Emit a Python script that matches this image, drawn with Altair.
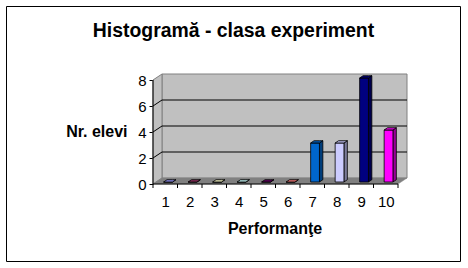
import altair as alt
import pandas as pd

# ---- chart values ----
categories = [1, 2, 3, 4, 5, 6, 7, 8, 9, 10]
counts = [0, 0, 0, 0, 0, 0, 3, 3, 8, 4]
bar_colors = ["#9999FF", "#993366", "#FFFFCC", "#CCFFFF", "#660066",
              "#FF8080", "#0066CC", "#CCCCFF", "#000080", "#FF00FF"]
y_ticks = [0, 2, 4, 6, 8]
title_text = "Histogramă - clasa experiment"
y_title = "Nr. elevi"
x_title = "Performanţe"

# ---- geometry / style ----
FONT = "Liberation Sans"
PX_X = 24.5
PX_Y = 13.0
DEPTH_X, DEPTH_Y = 9.0, 6.0
DX, DY = DEPTH_X / PX_X, DEPTH_Y / PX_Y
XMIN, XMAX = categories[0] - 0.5, categories[-1] + 0.5
YMAX = max(y_ticks)
W = PX_X * len(categories) + DEPTH_X
H = PX_Y * YMAX + DEPTH_Y
LEFT, TOP = 153, 74

BAR_HALF = 4.4 / PX_X
BAR_OX, BAR_OY = 2.8 / PX_X, 2.0 / PX_Y
BAR_DX, BAR_DY = 3.4 / PX_X, 2.3 / PX_Y


def shade(h, f):
    h = h.lstrip("#")
    r, g, b = (int(h[i:i + 2], 16) for i in (0, 2, 4))
    return "#%02X%02X%02X" % (int(r * f), int(g * f), int(b * f))


xs = alt.Scale(domain=[XMIN, XMAX + DX], nice=False, zero=False)
ys = alt.Scale(domain=[0, YMAX + DY], nice=False, zero=False)

xaxis = alt.Axis(values=categories, ticks=False, tickSize=0, domain=False, grid=False,
                 format="d", labelFont=FONT, labelFontSize=15, labelColor="black",
                 labelPadding=10, labelFlush=False, labelOverlap=False,
                 title=x_title, titleFont=FONT, titleFontSize=16, titleFontWeight="bold",
                 titleColor="black", titleAlign="center", titleBaseline="alphabetic",
                 titleX=121.5, titleY=49)
yaxis = alt.Axis(values=y_ticks, tickSize=4, tickColor="black", domain=False, grid=False,
                 format="d", labelFont=FONT, labelFontSize=15, labelColor="black",
                 labelPadding=3, labelFlush=False, labelOverlap=False,
                 title=y_title, titleFont=FONT, titleFontSize=16, titleFontWeight="bold",
                 titleColor="black", titleAngle=0, titleAlign="right",
                 titleBaseline="alphabetic", titleX=-26, titleY=62)


def X(f):
    return alt.X(f, type="quantitative", scale=xs, axis=xaxis)


def Y(f):
    return alt.Y(f, type="quantitative", scale=ys, axis=yaxis, stack=None)


# ---- walls ----
side_wall = pd.DataFrame({"x": [XMIN, XMIN + DX], "y": [0, DY], "y2": [YMAX, YMAX + DY]})
back_wall = pd.DataFrame({"x": [XMIN + DX], "x2": [XMAX + DX], "y": [DY], "y2": [YMAX + DY]})
floor = pd.DataFrame({"x": [XMIN, XMIN + DX, XMAX, XMAX + DX],
                      "y": [0, 0, 0, DY], "y2": [0, DY, DY, DY]})

grid_back = pd.DataFrame({"x": [XMIN + DX] * 3, "x2": [XMAX + DX] * 3,
                          "y": [t + DY for t in y_ticks[1:-1]]})
grid_side = pd.DataFrame({"x": [XMIN] * 3, "x2": [XMIN + DX] * 3,
                          "y": y_ticks[1:-1], "y2": [t + DY for t in y_ticks[1:-1]]})

l_side = alt.Chart(side_wall).mark_area(orient="vertical", fill="#C0C0C0", stroke="#808080",
                                         strokeWidth=1).encode(x=X("x"), y=Y("y"), y2="y2")
l_back = alt.Chart(back_wall).mark_rect(fill="#C0C0C0", stroke="#808080", strokeWidth=1).encode(
    x=X("x"), x2="x2", y=Y("y"), y2="y2")
l_floor = alt.Chart(floor).mark_area(orient="vertical", fill="#808080", stroke="#808080",
                                      strokeWidth=0.5).encode(x=X("x"), y=Y("y"), y2="y2")
l_gb = alt.Chart(grid_back).mark_rule(color="black", strokeWidth=1).encode(x=X("x"), x2="x2", y=Y("y"))
l_gs = alt.Chart(grid_side).mark_rule(color="black", strokeWidth=1).encode(
    x=X("x"), x2="x2", y=Y("y"), y2="y2")

# ---- bars ----
front_rows, side_rows, top_rows = [], [], []
for c, v, col in zip(categories, counts, bar_colors):
    x0 = c - BAR_HALF + BAR_OX
    x1 = c + BAR_HALF + BAR_OX
    y0 = BAR_OY
    y1 = v + BAR_OY
    front_rows.append({"id": c, "x": x0, "x2": x1, "y": y0, "y2": y1, "col": col})
    sc = shade(col, 0.6)
    side_rows += [{"id": c, "x": x1, "y": y0, "y2": y1, "col": sc},
                  {"id": c, "x": x1 + BAR_DX, "y": y0 + BAR_DY, "y2": y1 + BAR_DY, "col": sc}]
    tc = shade(col, 0.85)
    top_rows += [{"id": c, "x": x0, "y": y1, "y2": y1, "col": tc},
                 {"id": c, "x": x0 + BAR_DX, "y": y1, "y2": y1 + BAR_DY, "col": tc},
                 {"id": c, "x": x1, "y": y1, "y2": y1 + BAR_DY, "col": tc},
                 {"id": c, "x": x1 + BAR_DX, "y": y1 + BAR_DY, "y2": y1 + BAR_DY, "col": tc}]

l_side_faces = alt.Chart(pd.DataFrame(side_rows)).mark_area(
    orient="vertical", stroke="black", strokeWidth=0.8).encode(
    x=X("x"), y=Y("y"), y2="y2", detail="id:N", fill=alt.Fill("col:N", scale=None))
l_top_faces = alt.Chart(pd.DataFrame(top_rows)).mark_area(
    orient="vertical", stroke="black", strokeWidth=0.8).encode(
    x=X("x"), y=Y("y"), y2="y2", detail="id:N", fill=alt.Fill("col:N", scale=None))
l_front = alt.Chart(pd.DataFrame(front_rows)).mark_rect(stroke="black", strokeWidth=0.8).encode(
    x=X("x"), x2="x2", y=Y("y"), y2="y2", fill=alt.Fill("col:N", scale=None))

# ---- axis lines and ticks ----
axis_y_line = pd.DataFrame({"x": [XMIN], "y": [0], "y2": [YMAX]})
axis_x_line = pd.DataFrame({"x": [XMIN], "x2": [XMAX], "y": [0]})
x_ticks = pd.DataFrame({"x": [c - 0.5 for c in categories] + [XMAX], "y": [0] * (len(categories) + 1)})

l_ay = alt.Chart(axis_y_line).mark_rule(color="black", strokeWidth=1).encode(x=X("x"), y=Y("y"), y2="y2")
l_ax = alt.Chart(axis_x_line).mark_rule(color="black", strokeWidth=1).encode(x=X("x"), x2="x2", y=Y("y"))
l_xt = alt.Chart(x_ticks).mark_rule(color="black", strokeWidth=1, y2Offset=4).encode(
    x=X("x"), y=Y("y"), y2="y")

# ---- outer frame and chart title ----
one = pd.DataFrame({"t": [title_text]})
frame = alt.Chart(one).mark_rect(
    filled=False, stroke="black", strokeWidth=1).encode(
    x=alt.value(6.5 - LEFT), x2=alt.value(460.5 - LEFT),
    y=alt.value(6.5 - TOP), y2=alt.value(261.5 - TOP))
title = alt.Chart(one).mark_text(
    font=FONT, fontSize=19.4, fontWeight="bold", color="black",
    align="center", baseline="alphabetic").encode(
    text="t:N", x=alt.value(233.5 - LEFT), y=alt.value(36.9 - TOP))

chart = alt.layer(
    l_back, l_side, l_floor, l_gb, l_gs,
    l_side_faces, l_front, l_top_faces,
    l_ay, l_ax, l_xt, frame, title
).properties(
    width=W, height=H,
    padding={"left": LEFT, "top": TOP, "right": 468 - LEFT - W, "bottom": 268 - TOP - H},
    autosize=alt.AutoSizeParams(type="none"),
    background="white",
).configure_view(strokeWidth=0)

chart.save("out.html", embed_options={"renderer": "svg", "actions": False})
